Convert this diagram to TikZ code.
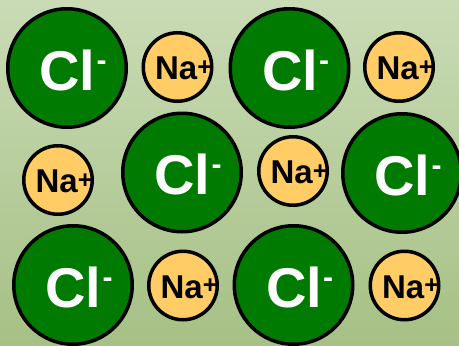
\documentclass[tikz,border=0pt]{standalone}
\usepackage{fontspec}
\setmainfont{Liberation Sans}
\definecolor{bgtop}{HTML}{C9DBB5}
\definecolor{bgbot}{HTML}{A6C085}
\definecolor{clgreen}{HTML}{007A00}
\definecolor{naorange}{HTML}{FFCC66}
\tikzset{
  clion/.style={circle, draw=black, line width=3.5pt, fill=clgreen, minimum size=118.5pt, inner sep=0pt},
  naion/.style={circle, draw=black, line width=3.5pt, fill=naorange, minimum size=68.5pt, inner sep=0pt},
  cllab/.style={text=white, inner sep=0pt, xshift=6pt, yshift=-2pt, font=\bfseries\fontsize{56}{56}\selectfont},
  nalab/.style={text=black, inner sep=0pt, xshift=6pt, yshift=-1.5pt, font=\bfseries\fontsize{33}{33}\selectfont}
}
\newcommand{\cltxt}{Cl\kern1pt\raisebox{20pt}{\fontsize{30}{30}\selectfont -}}
\newcommand{\natxt}{Na\raisebox{4.5pt}{\fontsize{25}{25}\selectfont +}}
\begin{document}
\begin{tikzpicture}[x=1pt,y=-1pt]
\useasboundingbox (0,0) rectangle (459,346);
\shade[top color=bgtop, bottom color=bgbot] (0,0) rectangle (459,346);
\clip (0,0) rectangle (459,346);
% Cl- ions
\node[clion] (c1) at (67,68) {};
\node[clion] (c2) at (289.5,68) {};
\node[clion] (c3) at (182,172.5) {};
\node[clion] (c4) at (402,173) {};
\node[clion] (c5) at (73,285) {};
\node[clion] (c6) at (293.5,285) {};
\foreach \n in {c1,c2,c3,c4,c5,c6}{\node[cllab] at (\n) {\cltxt};}
% Na+ ions
\node[naion] (n1) at (177.5,67) {};
\node[naion] (n2) at (399,67) {};
\node[naion] (n3) at (58,180) {};
\node[naion] (n4) at (293,171) {};
\node[naion] (n5) at (183,285.5) {};
\node[naion] (n6) at (404.5,285.5) {};
\foreach \n in {n1,n2,n3,n4,n5,n6}{\node[nalab] at (\n) {\natxt};}
\end{tikzpicture}
\end{document}
